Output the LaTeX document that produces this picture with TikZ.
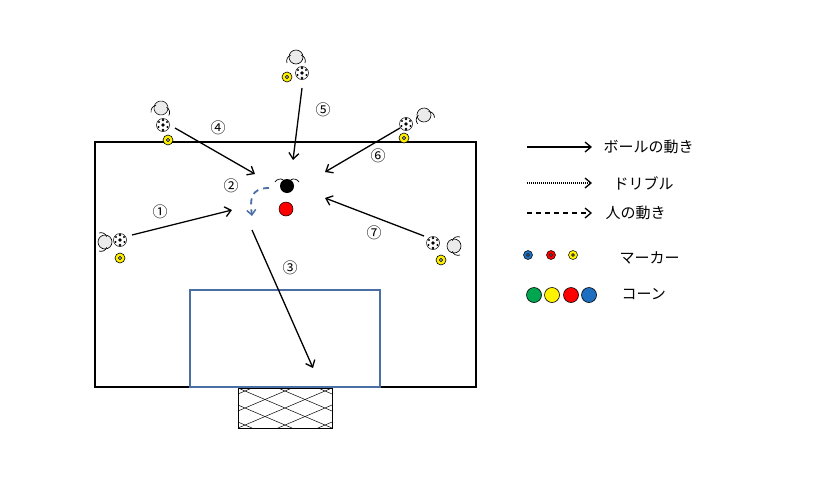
\documentclass[tikz,border=0pt]{standalone}
\usepackage{fontspec}
\setmainfont{Noto Sans CJK JP}
\usetikzlibrary{arrows.meta}
\definecolor{goalblue}{HTML}{4A6FA5}
\definecolor{cblue}{HTML}{1F6FC0}
\definecolor{cgreen}{HTML}{00A550}
\tikzset{
  arr/.style={line width=1.3pt,-{Straight Barb[length=6pt,width=10pt,line width=1.3pt]}},
  lbl/.style={font=\fontsize{15}{15}\selectfont},
  leg/.style={font=\fontsize{15}{15}\selectfont,anchor=west},
  marker/.pic={\fill[#1,draw=black,line width=0.6pt] (0,0) circle (5); \draw[line width=0.8pt,fill=white] (0,0) circle (1.6);},
  ball/.pic={\draw[fill=white,line width=0.5pt] (0,0) circle (6.5); \fill (0,0) circle (1.8); \fill (0,5) circle (1.3); \fill (0,-5) circle (1.3); \fill (-4.5,2) circle (1.1); \fill (4.5,2) circle (1.1);\fill (-4,-3) circle (1.1); \fill (4,-3) circle (1.1);},
  head/.pic={\draw[fill=black!8,line width=0.6pt] (0,0) circle (7);
     \draw[line width=0.7pt] (-9,-6) arc (200:110:6); \draw[line width=0.7pt] (9,-6) arc (-20:70:6);},
  cone/.style={draw=black,line width=0.6pt}
}
\begin{document}
\begin{tikzpicture}[x=1pt,y=-1pt]
\useasboundingbox (0,0) rectangle (816,501);
% field
\draw[line width=2.5pt] (95,142) rectangle (476,387);
\draw[goalblue,line width=1.8pt,fill=white] (190,290) rectangle (380,387);
% goal net
\begin{scope}
\clip (238,388) rectangle (332,428);
\foreach \o in {-120,-80,...,160}{
  \draw[line width=0.5pt] (238+\o,388) -- ++(94,40);
  \draw[line width=0.5pt] (238+\o,428) -- ++(94,-40);
}
\end{scope}
\draw[line width=0.6pt] (238,388) rectangle (332,428);
% players
\pic[rotate=90] at (105,242) {head};
\pic at (120,240) {ball}; \pic at (120,258) {marker=yellow};
\pic[rotate=170] at (161,108) {head};
\pic at (163,125) {ball}; \pic at (168,140) {marker=yellow};
\pic[rotate=180] at (296,57) {head};
\pic at (302,73) {ball}; \pic at (287,77) {marker=yellow};
\pic[rotate=200] at (424,115) {head};
\pic at (406,124) {ball}; \pic at (404,138) {marker=yellow};
\pic[rotate=-90] at (454,246) {head};
\pic at (433,243) {ball}; \pic at (441,260) {marker=yellow};
% defender
\draw[line width=0.7pt] (275,182) arc (210:300:6); \draw[line width=0.7pt] (299,182) arc (-30:-120:6);
\node[circle,fill=black,minimum size=14pt,inner sep=0] (def) at (287,186) {};
\node[circle,fill=red,draw=black,line width=0.5pt,minimum size=14pt,inner sep=0] (cone) at (286,209) {};
% coordinates
\coordinate (a1s) at (132,235); \coordinate (a1e) at (232,210);
\coordinate (a4s) at (175,128); \coordinate (a4e) at (255,174);
\coordinate (a5s) at (302,88); \coordinate (a5e) at (293,160);
\coordinate (a6s) at (400,128); \coordinate (a6e) at (325,172);
\coordinate (a7s) at (424,236); \coordinate (a7e) at (325,198);
\coordinate (a3s) at (252,230); \coordinate (a3e) at (313,368);
\draw[arr] (a1s) -- (a1e);
\draw[arr] (a4s) -- (a4e);
\draw[arr] (a5s) -- (a5e);
\draw[arr] (a6s) -- (a6e);
\draw[arr] (a7s) -- (a7e);
\draw[arr] (a3s) -- (a3e);
\coordinate (d1) at (269,188); \coordinate (d2) at (252,216);
\draw[goalblue,line width=1.8pt,dash pattern=on 6pt off 5pt,-{Straight Barb[length=5pt,width=9pt,line width=1.5pt]}] (d1) .. controls (250,188) and (250,200) .. (d2);
% labels
\node[lbl] (l1) at (160,212) {①};
\node[lbl] (l2) at (231,186) {②};
\node[lbl] (l3) at (290,268) {③};
\node[lbl] (l4) at (218,128) {④};
\node[lbl] (l5) at (323,110) {⑤};
\node[lbl] (l6) at (378,156) {⑥};
\node[lbl] (l7) at (374,233) {⑦};
% legend
\coordinate (g1s) at (527,147); \coordinate (g1e) at (592,147);
\coordinate (g2s) at (527,183); \coordinate (g2e) at (592,183);
\coordinate (g3s) at (527,213); \coordinate (g3e) at (592,213);
\draw[arr] (g1s) -- (g1e);
\draw[arr,line width=1.3pt,dash pattern=on 1pt off 1pt] (g2s) -- (g2e);
\draw[arr,dash pattern=on 5pt off 4pt] (g3s) -- (g3e);
\node[leg] (t1) at (600,147) {ボールの動き};
\node[leg] (t2) at (610,183) {ドリブル};
\node[leg] (t3) at (602,213) {人の動き};
\begin{scope}[scale=0.85]
\end{scope}
\fill[cblue,draw=black,line width=0.5pt] (528,255) circle (4.5); \draw[fill=white,line width=0.6pt] (528,255) circle (1.4);
\fill[red,draw=black,line width=0.5pt] (551,255) circle (4.5); \draw[fill=white,line width=0.6pt] (551,255) circle (1.4);
\fill[yellow,draw=black,line width=0.5pt] (573,255) circle (4.5); \draw[fill=white,line width=0.6pt] (573,255) circle (1.4);
\node[leg] (t4) at (616,258) {マーカー};
\fill[cgreen,cone] (534,295) circle (7.5);
\fill[yellow,cone] (552,295) circle (7.5);
\fill[red,cone] (571,295) circle (7.5);
\fill[cblue,cone] (589,295) circle (7.5);
\node[leg] (t5) at (618,294) {コーン};
\end{tikzpicture}
\end{document}
